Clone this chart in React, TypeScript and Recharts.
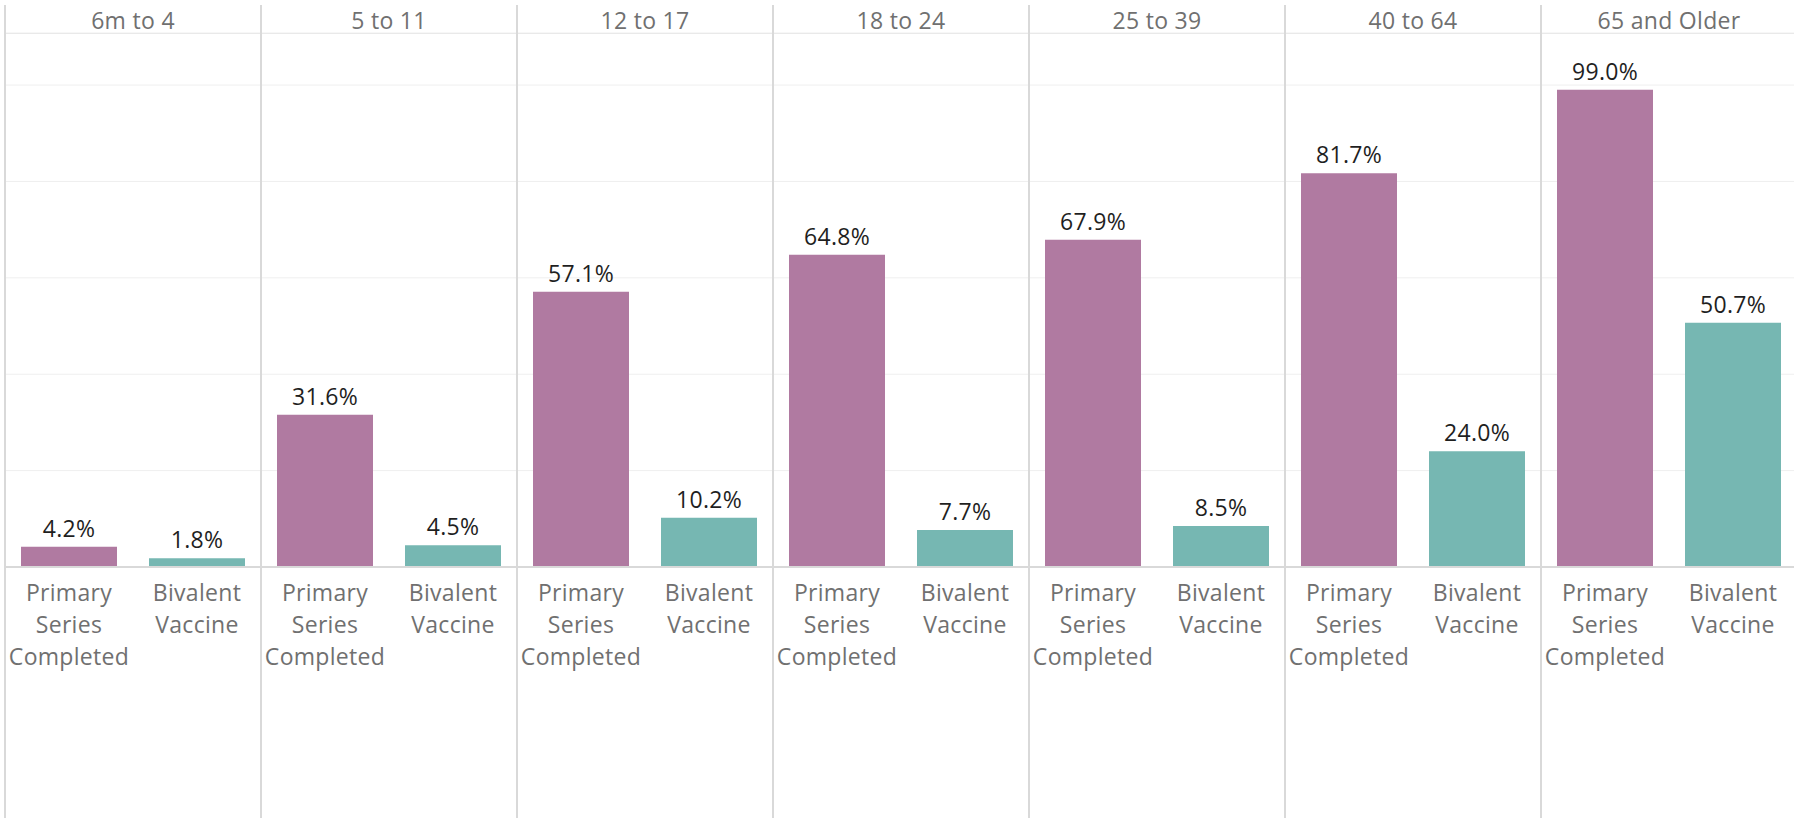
import React from 'react';
import {
  BarChart,
  Bar,
  Cell,
  XAxis,
  YAxis,
  CartesianGrid,
  LabelList,
} from 'recharts';

const ageGroups = ['6m to 4', '5 to 11', '12 to 17', '18 to 24', '25 to 39', '40 to 64', '65 and Older'];
const doseTypes = ['Primary Series Completed', 'Bivalent Vaccine'];
const primarySeries = [4.2, 31.6, 57.1, 64.8, 67.9, 81.7, 99.0];
const bivalentVaccine = [1.8, 4.5, 10.2, 7.7, 8.5, 24.0, 50.7];
const gridTicks = [0, 20, 40, 60, 80, 100];

const COLORS = ['#b07aa1', '#76b7b2'];
const FONT = '"Open Sans", sans-serif';
const PANEL_W = 256;
const LEFT = 5;
const TOP = 33;
const BASE = 567;
const H = 818;

const DoseTick = (props: any) => {
  const { x, y, payload } = props;
  const words = String(payload.value).split(' ');
  return (
    <g>
      {words.map((w: string, i: number) => (
        <text
          key={i}
          x={x}
          y={y + 34 + i * 32}
          textAnchor="middle"
          fill="#707070"
          fontSize={23}
          fontFamily={FONT}
          letterSpacing={0.3}
        >
          {w}
        </text>
      ))}
    </g>
  );
};

const Panel: React.FC<{ index: number }> = ({ index }) => {
  const data = [
    { dose: doseTypes[0], value: primarySeries[index] },
    { dose: doseTypes[1], value: bivalentVaccine[index] },
  ];
  return (
    <div style={{ position: 'absolute', left: LEFT + index * PANEL_W, top: 0 }}>
      <div
        style={{
          position: 'absolute',
          left: 0,
          top: 6,
          width: PANEL_W,
          textAlign: 'center',
          fontFamily: FONT,
          fontSize: 23,
          color: '#707070',
          lineHeight: '28px',
          letterSpacing: 0.3,
        }}
      >
        {ageGroups[index]}
      </div>
      <BarChart
        width={PANEL_W}
        height={H}
        data={data}
        margin={{ top: TOP, right: 0, left: 0, bottom: 0 }}
        barCategoryGap="12.5%"
      >
        <CartesianGrid vertical={false} stroke="#efefef" />
        <YAxis hide domain={[0, 110.8]} ticks={gridTicks} />
        <XAxis
          dataKey="dose"
          height={H - BASE}
          tickSize={0}
          tickMargin={0}
          tickLine={false}
          axisLine={{ stroke: '#d9d9d9', strokeWidth: 2 }}
          tick={<DoseTick />}
          interval={0}
        />
        <Bar dataKey="value" isAnimationActive={false}>
          {data.map((_d, i) => (
            <Cell key={i} fill={COLORS[i]} />
          ))}
          <LabelList
            dataKey="value"
            position="top"
            offset={10}
            formatter={(v: any) => `${Number(v).toFixed(1)}%`}
            style={{ fill: '#1f1f1f', fontSize: 23, fontFamily: FONT, letterSpacing: 0.3 }}
          />
        </Bar>
      </BarChart>
    </div>
  );
};

const App: React.FC = () => {
  return (
    <div
      style={{
        position: 'absolute',
        left: 0,
        top: 0,
        width: 1794,
        height: H,
        overflow: 'hidden',
        background: '#fff',
      }}
    >
      {/* header rule */}
      <div style={{ position: 'absolute', left: LEFT, top: TOP, width: 1794, height: 1, background: '#e3e3e3' }} />
      {ageGroups.map((_g, i) => (
        <Panel key={i} index={i} />
      ))}
      {/* panel separators */}
      {ageGroups.map((_g, i) => (
        <div
          key={'sep' + i}
          style={{
            position: 'absolute',
            left: LEFT - 1 + i * PANEL_W,
            top: 5,
            width: 2,
            height: H - 5,
            background: '#d9d9d9',
          }}
        />
      ))}
    </div>
  );
};

export default App;
